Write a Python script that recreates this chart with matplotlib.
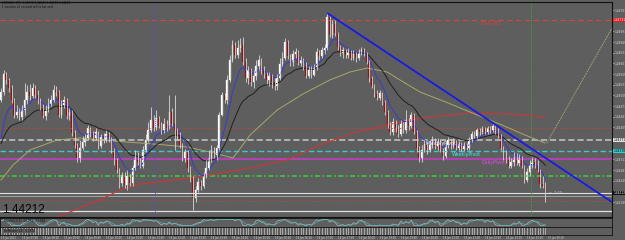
import matplotlib
matplotlib.use("Agg")
import matplotlib.pyplot as plt
from matplotlib.transforms import blended_transform_factory
import numpy as np
import pandas as pd

# ---------------- data (prices in points above 1.44000, 1 pt = 0.00001) ----------------
BASE = 1.44
first_open = 491
close_pts = [515, 569, 551, 527, 491, 446, 455, 440, 461, 491,
             515, 503, 527, 506, 491, 467, 443, 461, 479, 491,
             521, 515, 446, 476, 491, 443, 455, 392, 356, 317,
             347, 365, 377, 407, 392, 377, 395, 353, 383, 371,
             389, 377, 341, 311, 281, 242, 266, 236, 263, 242,
             287, 317, 305, 293, 341, 371, 401, 431, 407, 437,
             413, 401, 419, 407, 455, 419, 401, 386, 356, 317,
             335, 287, 257, 197, 221, 245, 233, 263, 287, 317,
             341, 326, 347, 446, 506, 491, 551, 611, 656, 626,
             647, 656, 605, 557, 581, 545, 563, 593, 611, 581,
             569, 551, 563, 545, 533, 557, 599, 617, 665, 623,
             605, 629, 635, 602, 611, 593, 563, 581, 566, 587,
             635, 623, 641, 647, 740, 686, 719, 692, 650, 632,
             641, 626, 635, 617, 629, 617, 635, 641, 629, 605,
             557, 533, 509, 497, 512, 485, 455, 416, 395, 425,
             407, 389, 419, 401, 431, 413, 446, 395, 347, 317,
             341, 359, 341, 356, 371, 353, 365, 341, 323, 353,
             371, 353, 368, 347, 359, 344, 356, 347, 371, 389,
             383, 401, 395, 407, 395, 407, 401, 413, 395, 383,
             347, 317, 311, 293, 305, 317, 302, 317, 293, 251,
             275, 296, 305, 293, 281, 239, 232, 212]
high_pts = [527, 581, 575, 557, 536, 497, 476, 467, 476, 542,
            536, 539, 542, 536, 521, 497, 479, 476, 497, 506,
            536, 533, 521, 491, 503, 497, 467, 461, 401, 362,
            371, 383, 389, 416, 410, 398, 407, 398, 389, 392,
            401, 395, 380, 347, 317, 287, 275, 275, 281, 269,
            296, 341, 335, 317, 353, 389, 425, 470, 446, 461,
            443, 425, 437, 431, 506, 467, 506, 407, 395, 362,
            344, 341, 293, 263, 233, 257, 251, 275, 311, 341,
            356, 350, 356, 455, 515, 512, 566, 626, 671, 665,
            671, 677, 680, 617, 593, 587, 581, 611, 626, 617,
            593, 575, 575, 569, 557, 569, 617, 635, 677, 671,
            629, 641, 647, 641, 623, 617, 605, 593, 593, 599,
            647, 641, 650, 659, 752, 743, 731, 731, 695, 656,
            650, 644, 647, 641, 641, 635, 644, 650, 647, 635,
            611, 563, 539, 521, 521, 515, 491, 461, 425, 437,
            431, 416, 431, 425, 461, 437, 455, 452, 401, 353,
            356, 371, 365, 371, 383, 377, 377, 371, 347, 365,
            380, 374, 377, 371, 368, 365, 365, 362, 380, 398,
            398, 407, 407, 413, 410, 413, 413, 422, 419, 407,
            389, 353, 341, 323, 317, 335, 332, 329, 323, 296,
            287, 311, 320, 317, 311, 284, 263, 244]
low_pts = [485, 506, 539, 515, 482, 437, 437, 431, 431, 446,
           479, 491, 497, 497, 479, 461, 437, 431, 455, 473,
           485, 503, 440, 437, 467, 434, 431, 383, 347, 305,
           305, 341, 353, 371, 380, 368, 371, 344, 347, 362,
           365, 365, 332, 296, 272, 227, 233, 227, 221, 233,
           233, 281, 296, 287, 287, 335, 365, 395, 398, 401,
           407, 389, 392, 398, 404, 413, 341, 371, 347, 308,
           305, 275, 245, 161, 185, 215, 221, 227, 257, 281,
           305, 317, 311, 341, 443, 482, 479, 545, 605, 617,
           617, 635, 596, 545, 539, 533, 527, 551, 581, 569,
           557, 539, 533, 527, 521, 521, 551, 593, 611, 614,
           593, 593, 617, 596, 593, 581, 557, 557, 557, 563,
           581, 611, 617, 629, 641, 680, 677, 683, 641, 623,
           617, 617, 617, 611, 611, 605, 611, 626, 623, 599,
           545, 527, 500, 491, 491, 476, 446, 407, 386, 386,
           395, 380, 383, 392, 392, 401, 407, 389, 335, 305,
           305, 335, 329, 335, 347, 344, 341, 335, 311, 317,
           347, 344, 347, 341, 341, 338, 338, 341, 341, 365,
           377, 377, 386, 389, 389, 389, 392, 395, 389, 377,
           341, 311, 302, 287, 287, 293, 296, 293, 287, 242,
           245, 263, 287, 287, 275, 227, 227, 186]

# moving-average seeds (value just before the first visible bar)
blue_ma_seed = 335
black_ma_seed = 345
# slow MAs read at a few bars (bar index, points)
olive_ma_bar = [0, 4.6, 11, 21.3, 30, 37.6, 52.9, 62.4, 70.7, 79.5, 88.2, 94.7, 105,
                114.8, 125, 132.7, 139.2, 146.8, 151.7, 159.3, 170, 182.9, 190.5, 199.2, 206.8]
olive_ma_pts = [251, 296, 341, 371, 377, 371, 362, 356, 350, 335, 317, 386, 461,
                509, 551, 575, 587, 575, 551, 515, 482, 440, 416, 386, 362]
red_ma_bar = [18.6, 28.1, 37.6, 45.2, 52.9, 71.9, 79.5, 94.7, 108.7, 121.3, 133.8,
              146.8, 159.3, 178.3, 193.5, 206.8]
red_ma_pts = [131, 161, 191, 221, 239, 257, 266, 287, 311, 356, 392, 416, 437, 452, 449, 440]
proj_bar = [207.5, 232.3]
proj_pts = [362, 707]

# horizontal levels
daily_r1 = 731
red_dot_upper = 407
monthly_pivot = 371
weekly_pivot = 338
daily_pivot = 314
green_level = 263
bid_level = 212
white_level2 = 203
red_dot_lower = 188
white_level3 = 158

# trend line anchors (bar index, points)
trend_bar = [124, 187]
trend_pts = [752, 422]

# vertical lines (bar index)
blue_vline = 58.5
green_vline = 201.5

time_labels = ["14 Jun 2011"] + [f"14 Jun {h:02d}:{m:02d}" for h, m in
               [(7, 40), (8, 20), (9, 0), (9, 40), (10, 20), (11, 0), (11, 40), (12, 20), (13, 0),
                (13, 40), (14, 20), (15, 0), (15, 40), (16, 20), (17, 0), (17, 40), (18, 20), (19, 0),
                (19, 40), (20, 20), (21, 0), (21, 40), (22, 20), (23, 0), (23, 40)]] + ["15 Jun 00:20"]
time_label_bar = [0] + [8 * k for k in range(1, 27)]

# ---------------- derived ----------------
c = np.array(close_pts, float)
o = np.concatenate([[first_open], c[:-1]])
h = np.maximum(np.array(high_pts, float), np.maximum(o, c))
l = np.minimum(np.array(low_pts, float), np.minimum(o, c))
n = len(c)
idx = np.arange(n)

def ema(vals, period, seed):
    a = 2.0 / (period + 1)
    out = []
    v = seed
    for x in vals:
        v = v + a * (x - v)
        out.append(v)
    return np.array(out)

P = lambda pts: BASE + np.asarray(pts, float) / 1e5

BG = "#5e5e5e"
W, H = 625, 240
fig = plt.figure(figsize=(W / 100, H / 100), dpi=100)
fig.patch.set_facecolor(BG)

def rect(x0, y0, x1, y1):
    return [x0 / W, 1 - y1 / H, (x1 - x0) / W, (y1 - y0) / H]

ax = fig.add_axes(rect(0, 2, 612, 217))
ax.set_facecolor(BG)
xmin, xmax = -0.38, 232.3
ax.set_xlim(xmin, xmax)
ax.set_ylim(P(140), P(785))
for s in ax.spines.values():
    s.set_color("#111111")
    s.set_linewidth(0.8)
ax.spines["left"].set_visible(False)
ax.set_xticks([])

# horizontal lines
ax.axhline(P(daily_r1), color="#d24a3c", lw=0.8, ls=(0, (5, 3)))
ax.axhline(P(red_dot_upper), color="#b04a40", lw=0.7, ls=(0, (1.5, 1.5)))
ax.axhline(P(monthly_pivot), color="#c8c8c8", lw=1.1, ls=(0, (4, 2)))
ax.axhline(P(weekly_pivot), color="#3cc8c8", lw=1.0, ls=(0, (4, 2)))
ax.axhline(P(daily_pivot), color="#c83cc8", lw=1.1)
ax.axhline(P(green_level), color="#3cc83c", lw=1.2, ls=(0, (3, 1.5, 1, 1.5)))
ax.axhline(P(bid_level), color="#e0e0e0", lw=0.8)
ax.axhline(P(white_level2), color="#b0b0b0", lw=0.6)
ax.axhline(P(red_dot_lower), color="#b04a40", lw=0.7, ls=(0, (1.5, 1.5)))
ax.axhline(P(white_level3), color="#e0e0e0", lw=0.9)

ax.axvline(blue_vline, color="#5050d0", lw=0.7, ls=(0, (1, 1)))
ax.axvline(green_vline, color="#40a040", lw=0.7, ls=(0, (1, 1)))

# moving averages
ax.plot(red_ma_bar, P(red_ma_pts), color="#c83838", lw=0.8)
ax.plot(olive_ma_bar, P(olive_ma_pts), color="#a8a86a", lw=0.7)
ax.plot(proj_bar, P(proj_pts), color="#b8b87a", lw=0.7, ls=(0, (1, 1)))
ax.plot(idx, P(ema(c, 21, black_ma_seed)), color="#202020", lw=0.7)
ax.plot(idx, P(ema(c, 8, blue_ma_seed)), color="#3a3ad0", lw=0.7)

# candles
up = c >= o
wick_col = "#d8d8d8"
ax.vlines(idx, P(l), P(h), color=wick_col, lw=0.6)
body_lo = np.minimum(o, c)
body_hi = np.maximum(o, c)
hgt = np.maximum(body_hi - body_lo, 1.0)
ax.bar(idx[up], hgt[up] / 1e5, bottom=P(body_lo[up]), width=0.62, color="#ffffff",
       edgecolor="#ffffff", lw=0.2)
ax.bar(idx[~up], hgt[~up] / 1e5, bottom=P(body_lo[~up]), width=0.62, color="#8c1010",
       edgecolor="#a02020", lw=0.2)

# trend line extended to right edge
slope = (trend_pts[1] - trend_pts[0]) / (trend_bar[1] - trend_bar[0])
tx = np.array([trend_bar[0], xmax])
ty = trend_pts[0] + slope * (tx - trend_bar[0])
ax.plot(tx, P(ty), color="#1a1ae6", lw=1.3, solid_capstyle="butt")

# level texts
ax.text(182.5, P(daily_r1 - 4), "Daily R1", color="#e04040", fontsize=3.4, va="top")
ax.text(161.5, P(monthly_pivot - 4), "MonthlyPivot", color="#f4f4f4", fontsize=3.4, va="top")
ax.text(171.5, P(weekly_pivot - 4), "WeeklyPivot", color="#40e8e8", fontsize=3.4, va="top")
ax.text(182.5, P(daily_pivot - 4), "DailyPivot", color="#e848e8", fontsize=3.4, va="top")
ax.text(208.5, P(bid_level), "<- 1:23", color="#e0e0e0", fontsize=2.4, va="center")

# price axis (labels hidden where a level box sits, as the terminal does)
box_levels = [daily_r1, monthly_pivot, weekly_pivot, bid_level]
tick_prices = [761 - 32 * k for k in range(0, 19)]
ax.yaxis.tick_right()
ax.set_yticks(P(tick_prices))
ax.set_yticklabels([f"{v:.5f}" if min(abs(t - b) for b in box_levels) > 12 else ""
                    for t, v in zip(tick_prices, P(tick_prices))], fontsize=2.1, color="#d8d8d8")
ax.tick_params(axis="y", length=1.2, width=0.4, color="#d8d8d8", pad=0.4)

def axis_box(pts, fc, tc):
    ax.text(1.002, P(pts), f"{P(pts):.5f}", transform=ax.get_yaxis_transform(),
            fontsize=2.1, color=tc, va="center", ha="left",
            bbox=dict(boxstyle="square,pad=0.12", fc=fc, ec="none"), clip_on=False)

axis_box(daily_r1, "#e02020", "#ffffff")
axis_box(monthly_pivot, "#e0e0e0", "#000000")
axis_box(weekly_pivot, "#30d0d0", "#000000")
axis_box(bid_level, "#101010", "#ffffff")

# header texts
fig.text(2 / W, 1 - 1.5 / H, "EURUSD+,M5  1.44232 1.44244 1.44186 1.44212", fontsize=2.0,
         color="#101010", va="top", ha="left")
fig.text(2 / W, 1 - 5 / H, "1 minutes 22 seconds left to bar end", fontsize=2.0,
         color="#101010", va="top", ha="left")
fig.text(2 / W, 1 - 216 / H, "1.44212", fontsize=8.5, family="Liberation Sans",
         color="#050505", va="bottom", ha="left")

# ---------------- indicator panels ----------------
hh = pd.Series(h).rolling(5, min_periods=1).max().values
ll = pd.Series(l).rolling(5, min_periods=1).min().values
stoch_k = 100 * (c - ll) / np.maximum(hh - ll, 1)
stoch_d = pd.Series(stoch_k).rolling(3, min_periods=1).mean().values

ax1 = fig.add_axes(rect(0, 218, 612, 227))
ax1.set_facecolor(BG)
ax1.set_xlim(xmin, xmax)
ax1.set_ylim(-10, 110)
ax1.plot(idx, stoch_k, color="#c8c8c8", lw=0.4)
ax1.plot(idx, stoch_d, color="#40c0c0", lw=0.4)
ax1.set_xticks([]); ax1.set_yticks([])
for s in ax1.spines.values():
    s.set_color("#111111"); s.set_linewidth(0.6)
ax1.text(1, 95, "Stoch(5,3,3)  14.066  23.682", fontsize=2.1, color="#101010", va="top")

ax2 = fig.add_axes(rect(0, 227, 612, 235))
ax2.set_facecolor(BG)
ax2.set_xlim(xmin, xmax)
ax2.set_ylim(0, 1)
ax2.vlines(idx, 0.05, 0.95, color="#c8c8c8", lw=0.5)
ax2.set_xticks([]); ax2.set_yticks([])
for s in ax2.spines.values():
    s.set_color("#111111"); s.set_linewidth(0.6)
ax2.text(1, 0.5, "DeMarker(14)  0.2532", fontsize=2.1, color="#101010", va="center",
         bbox=dict(boxstyle="square,pad=0.1", fc=BG, ec="none"))

tr = blended_transform_factory(ax.transData, fig.transFigure)
for b, lab in zip(time_label_bar, time_labels):
    ax.text(b, 1 - 239.5 / H, lab, transform=tr, fontsize=1.8, color="#d8d8d8",
            va="bottom", ha="left", clip_on=False)

fig.savefig("out.png", dpi=100, facecolor=BG)
